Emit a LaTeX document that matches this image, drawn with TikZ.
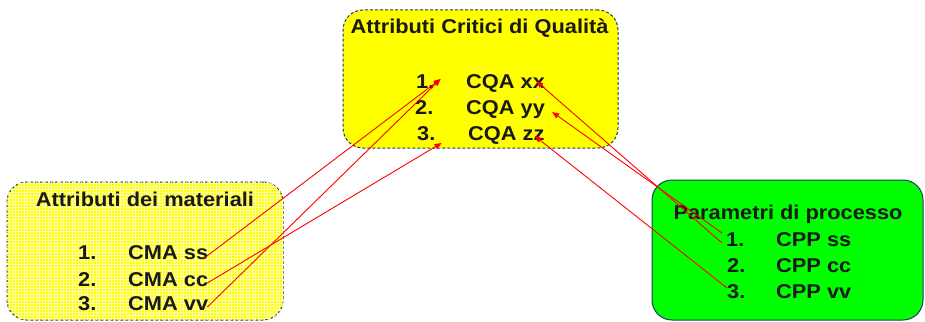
\documentclass[tikz,border=0pt]{standalone}
\usepackage{fontspec}
\newfontfamily\diagfont{Liberation Sans}[FakeStretch=1.09]
\usepackage{tikz}
\usetikzlibrary{arrows.meta, patterns}
\definecolor{boxyellow}{HTML}{FFFF00}
\definecolor{boxgreen}{HTML}{00FF00}
\definecolor{edgeblue}{HTML}{1F3B5F}
\definecolor{gridyellow}{HTML}{FFFFB0}
\definecolor{linkred}{HTML}{FF0000}

\begin{document}
\begin{tikzpicture}[
    x=1pt, y=-1pt,
    panel/.style={rectangle, rounded corners=20pt, draw=edgeblue, line width=1pt, inner sep=0pt},
    dashedbox/.style={panel, dash pattern=on 3pt off 2pt},
    txt/.style={inner sep=0pt, anchor=base west, font=\diagfont\bfseries\fontsize{20}{24}\selectfont, text=black!90},
    ttl/.style={txt, anchor=base},
    link/.style={-{Triangle[length=7pt, width=5.5pt]}, linkred, line width=0.9pt},
  ]
  \useasboundingbox (0,0) rectangle (925,321);

  % Boxes
  \node[dashedbox, fill=boxyellow, postaction={pattern=grid, pattern color=gridyellow},
        minimum width=276pt, minimum height=138pt] (matbox) at (145,251) {};
  \node[dashedbox, fill=boxyellow, minimum width=275pt, minimum height=138pt] (qbox) at (480.5,79) {};
  \node[panel, fill=boxgreen, minimum width=271pt, minimum height=140pt] (pbox) at (787.5,250) {};

  % Titles
  \node[ttl] (mattitle) at (145,206) {Attributi dei materiali};
  \node[ttl] (qtitle) at (479.5,34) {Attributi Critici di Qualità};
  \node[ttl] (ptitle) at (788,219) {Parametri di processo};

  % Material attributes
  \node[txt] (mn1) at (78,259) {1.};
  \node[txt] (mn2) at (78,286) {2.};
  \node[txt] (mn3) at (78,310) {3.};
  \node[txt] (cmass) at (128,259) {CMA ss};
  \node[txt] (cmacc) at (128,286) {CMA cc};
  \node[txt] (cmavv) at (128,310) {CMA vv};

  % Critical quality attributes
  \node[txt] (qn1) at (416,88) {1.};
  \node[txt] (qn2) at (415,114) {2.};
  \node[txt] (qn3) at (417,140) {3.};
  \node[txt] (cqaxx) at (466,88) {CQA xx};
  \node[txt] (cqayy) at (466,114) {CQA yy};
  \node[txt] (cqazz) at (468,140) {CQA zz};

  % Process parameters
  \node[txt] (pn1) at (726,246) {1.};
  \node[txt] (pn2) at (727,272) {2.};
  \node[txt] (pn3) at (727,298) {3.};
  \node[txt] (cppss) at (776,246) {CPP ss};
  \node[txt] (cppcc) at (776,272) {CPP cc};
  \node[txt] (cppvv) at (776,298) {CPP vv};

  % Links from materials
  \draw[link] ([xshift=-4pt,yshift=1pt]cmass.base east) -- ([xshift=6pt,yshift=9pt]qn1.base east);
  \draw[link] ([xshift=-1pt,yshift=3pt]cmacc.base east) -- ([xshift=6pt,yshift=-3pt]qn3.base east);
  \draw[link] ([xshift=-1pt,yshift=3pt]cmavv.base east) -- ([xshift=6pt,yshift=9pt]qn1.base east);

  % Links from process parameters
  \draw[link] ([xshift=-4pt,yshift=3pt]pn1.base west) -- ([xshift=-9pt,yshift=7pt]cqaxx.base east);
  \draw[link] ([xshift=-4pt,yshift=13pt]pn1.base west) -- ([xshift=7pt,yshift=2pt]cqayy.base east);
  \draw[link] ([yshift=10pt]pn3.base west) -- ([xshift=-10pt,yshift=4pt]cqazz.base east);
\end{tikzpicture}
\end{document}
